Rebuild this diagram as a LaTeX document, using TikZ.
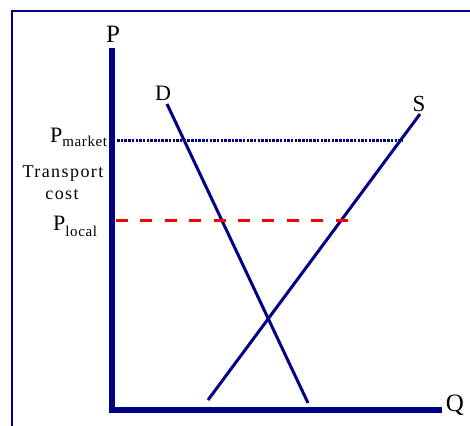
\documentclass[tikz,border=0pt]{standalone}
\usepackage{fontspec}
\setmainfont{Liberation Serif}
\definecolor{navy}{RGB}{0,0,130}
\definecolor{dashred}{RGB}{250,0,0}
\begin{document}
\begin{tikzpicture}[x=1pt,y=-1pt,
  lbl/.style={inner sep=0pt, anchor=base},
  axisline/.style={line width=6pt, navy, line join=miter},
  curveline/.style={line width=3pt, navy},
  mktline/.style={line width=3pt, navy, dash pattern=on 2.5pt off 1.2pt},
  locline/.style={line width=3pt, dashred, dash pattern=on 12pt off 12.4pt}]
\useasboundingbox (0,0) rectangle (470,425);
\begin{scope}
  \clip (0,0) rectangle (470,425);
  \draw[navy, line width=1.5pt] (12,11) rectangle (490,445);
\end{scope}
% axes
\coordinate (ytop) at (112,48);
\coordinate (origin) at (112,410);
\coordinate (xend) at (442,410);
\draw[axisline] (ytop) -- (origin) -- (xend);
% curves
\coordinate (d1) at (167,104);
\coordinate (d2) at (308,403);
\coordinate (s1) at (208,400);
\coordinate (s2) at (420,114);
\draw[curveline] (d1) -- (d2);
\draw[curveline] (s1) -- (s2);
% price lines
\coordinate (m1) at (117,140);
\coordinate (m2) at (402,140);
\coordinate (l1) at (116,220);
\coordinate (l2) at (348,220);
\draw[mktline] (m1) -- (m2);
\draw[locline] (l1) -- (l2);
% labels
\node[lbl] (Plab) at (113,43) {\fontsize{25}{25}\selectfont P};
\node[lbl] (Dlab) at (163,100) {\fontsize{22}{22}\selectfont D};
\node[lbl] (Slab) at (419,111) {\fontsize{23}{23}\selectfont S};
\node[lbl] (Qlab) at (455,411) {\fontsize{25}{25}\selectfont Q};
\node[lbl, anchor=base west] (pmkt) at (50,142) {{\fontsize{22}{22}\selectfont P}\raisebox{-4pt}{\fontsize{15}{15}\selectfont\addfontfeature{LetterSpace=4}market}};
\node[lbl] (trans) at (63,177) {\fontsize{18}{18}\selectfont\addfontfeature{LetterSpace=8}Transport};
\node[lbl] (cost) at (62,199) {\fontsize{18}{18}\selectfont\addfontfeature{LetterSpace=8}cost};
\node[lbl, anchor=base west] (ploc) at (53,230) {{\fontsize{22}{22}\selectfont P}\raisebox{-6pt}{\fontsize{15}{15}\selectfont\addfontfeature{LetterSpace=4}local}};
\end{tikzpicture}
\end{document}
